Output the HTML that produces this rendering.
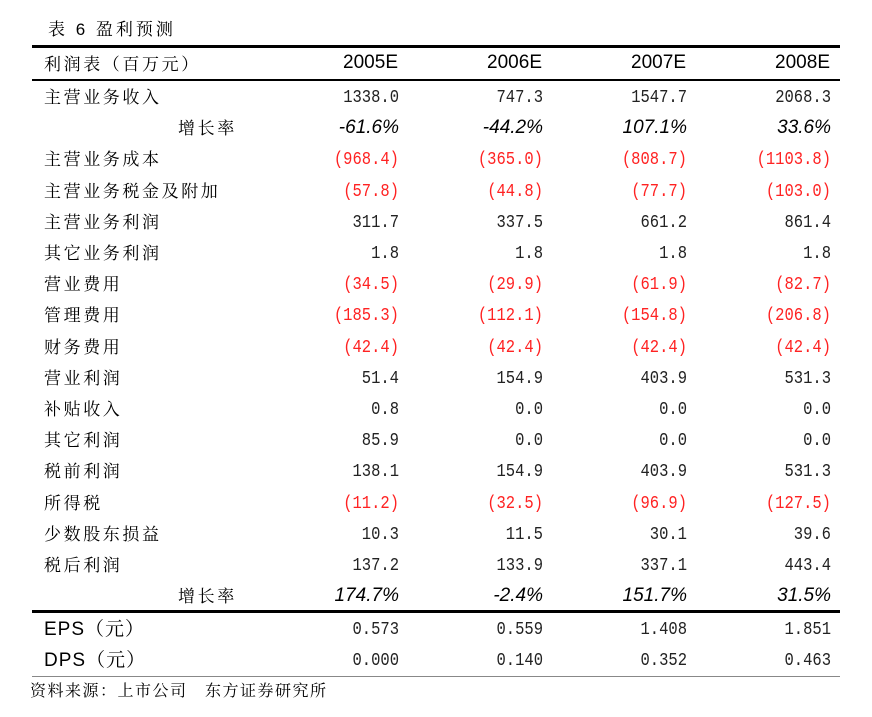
<!DOCTYPE html>
<html><head><meta charset="utf-8"><style>
body{margin:0;width:872px;height:717px;background:#fff;position:relative;overflow:hidden;font-family:"Liberation Sans","Noto Serif CJK SC",serif;color:#000}
.t{position:absolute;white-space:nowrap;font-size:17px;line-height:20px}
.cn{font-family:"Liberation Sans","Noto Serif CJK SC","WenQuanYi Zen Hei",serif;font-size:17px;letter-spacing:2.6px}
.n{position:absolute;white-space:nowrap;font-family:"Liberation Mono",monospace;font-size:15.5px;line-height:20px;text-align:right;width:120px;transform:scaleY(1.2);transform-origin:right center;color:#222}
.r{color:#f22}
.i{position:absolute;white-space:nowrap;font-family:"Liberation Sans",sans-serif;font-style:italic;font-size:19px;line-height:20px;text-align:right;width:120px}
.h{position:absolute;white-space:nowrap;font-family:"Liberation Sans",sans-serif;font-size:19px;line-height:20px;text-align:right;width:120px}
.line{position:absolute;left:32px;width:808px;background:#000}
</style></head><body>
<div class="t cn" style="left:48px;top:20px;letter-spacing:3px">表 6 盈利预测</div>
<div class="line" style="top:45px;height:3px"></div>
<div class="line" style="top:79px;height:2px"></div>
<div class="line" style="top:610px;height:3px"></div>
<div class="line" style="top:676px;height:1px;background:#888"></div>
<div class="t cn" style="left:44px;top:55px">利润表（百万元）</div>
<div class="h" style="left:278px;top:53px">2005E</div>
<div class="h" style="left:422px;top:53px">2006E</div>
<div class="h" style="left:566px;top:53px">2007E</div>
<div class="h" style="left:710px;top:53px">2008E</div>
<div id="rows"></div>
<div class="t cn" style="left:30px;top:682px;font-size:16px;letter-spacing:1.5px">资料来源：上市公司　东方证券研究所</div>
<script>
const rows=[
["主营业务收入",0,["1338.0","747.3","1547.7","2068.3"]],
["增长率",2,["-61.6%","-44.2%","107.1%","33.6%"]],
["主营业务成本",1,["(968.4)","(365.0)","(808.7)","(1103.8)"]],
["主营业务税金及附加",1,["(57.8)","(44.8)","(77.7)","(103.0)"]],
["主营业务利润",0,["311.7","337.5","661.2","861.4"]],
["其它业务利润",0,["1.8","1.8","1.8","1.8"]],
["营业费用",1,["(34.5)","(29.9)","(61.9)","(82.7)"]],
["管理费用",1,["(185.3)","(112.1)","(154.8)","(206.8)"]],
["财务费用",1,["(42.4)","(42.4)","(42.4)","(42.4)"]],
["营业利润",0,["51.4","154.9","403.9","531.3"]],
["补贴收入",0,["0.8","0.0","0.0","0.0"]],
["其它利润",0,["85.9","0.0","0.0","0.0"]],
["税前利润",0,["138.1","154.9","403.9","531.3"]],
["所得税",1,["(11.2)","(32.5)","(96.9)","(127.5)"]],
["少数股东损益",0,["10.3","11.5","30.1","39.6"]],
["税后利润",0,["137.2","133.9","337.1","443.4"]],
["增长率",2,["174.7%","-2.4%","151.7%","31.5%"]],
["EPS（元）",3,["0.573","0.559","1.408","1.851"]],
["DPS（元）",3,["0.000","0.140","0.352","0.463"]]];
const rights=[399,543,687,831];
let h="";
rows.forEach((r,k)=>{
 let y=(k<17?87+k*31.2:619+(k-17)*31.2);
 let left=r[1]==2?178:44;
 let st=r[1]==3?"font-family:'Liberation Sans','Noto Serif CJK SC',sans-serif;font-size:19px;letter-spacing:1px;":"";
 h+=`<div class="t cn" style="left:${left}px;top:${y+1}px;${st}">${r[0]}</div>`;
 r[2].forEach((v,j)=>{
  let cls=r[1]==2?"i":("n"+(r[1]==1?" r":""));
  h+=`<div class="${cls}" style="left:${rights[j]-120}px;top:${y}px">${v}</div>`;
 });
});
document.getElementById("rows").innerHTML=h;
</script>
</body></html>
